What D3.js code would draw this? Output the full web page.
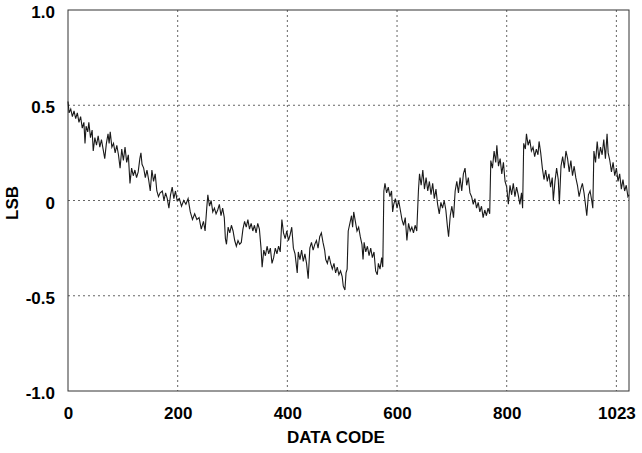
<!DOCTYPE html>
<html>
<head>
<meta charset="utf-8">
<script src="https://cdn.jsdelivr.net/npm/d3@7"></script>
<style>
  body { margin: 0; background: #fff; }
  svg { display: block; font-family: "Liberation Sans", Arial, sans-serif; }
</style>
</head>
<body>
<svg id="chart" width="642" height="453"></svg>
<script>
const codes = [0,2,5,8,11,14,17,20,23,26,29,31,33,36,38,41,44,46,49,52,55,58,61,64,67,70,73,75,77,80,83,86,89,92,95,98,101,104,107,110,113,116,119,122,125,128,131,133,135,138,141,144,147,150,153,156,159,162,165,168,172,175,178,181,184,187,190,193,196,199,203,207,211,215,219,223,227,231,235,239,243,247,250,253,255,258,261,264,267,270,273,276,279,282,285,287,289,292,295,298,301,304,307,310,313,316,319,322,325,328,331,334,337,340,343,346,349,352,354,357,360,363,366,369,372,375,378,381,384,387,390,393,396,399,402,405,408,411,414,418,420,423,426,429,432,435,438,441,444,447,450,453,456,459,462,465,468,470,473,476,479,482,485,488,491,494,497,500,502,505,507,509,511,514,517,519,521,524,527,530,533,536,538,540,543,546,549,552,555,558,561,564,566,569,572,574,576,578,581,584,587,590,592,594,597,600,603,606,609,612,615,618,621,624,627,630,633,636,639,641,644,647,650,653,656,659,662,665,668,671,674,677,680,683,686,689,692,694,697,700,703,706,709,712,715,718,721,724,727,730,733,736,739,742,745,748,751,754,757,760,763,766,769,771,774,777,780,782,785,788,791,794,797,800,803,806,809,812,815,818,821,824,827,829,831,834,836,839,842,845,848,851,854,857,859,862,865,868,871,874,877,880,883,885,888,891,894,896,899,902,905,908,911,914,917,920,923,926,929,932,935,938,941,944,946,949,952,955,957,959,962,965,968,971,974,977,980,983,985,988,991,994,997,1000,1003,1006,1009,1012,1015,1018,1021,1023];
const lsb = [0.52,0.46,0.48,0.44,0.47,0.43,0.46,0.41,0.44,0.38,0.41,0.30,0.39,0.36,0.41,0.33,0.37,0.26,0.33,0.29,0.34,0.28,0.32,0.27,0.22,0.30,0.35,0.30,0.36,0.28,0.30,0.25,0.29,0.24,0.17,0.27,0.21,0.28,0.20,0.24,0.09,0.17,0.13,0.16,0.12,0.15,0.22,0.25,0.19,0.17,0.12,0.16,0.11,0.05,0.16,0.10,0.14,0.05,0.02,0.04,0.05,0.00,0.04,0.01,-0.04,0.03,0.07,0.01,0.05,0.00,0.01,-0.03,0.00,-0.02,0.01,-0.06,-0.10,-0.07,-0.10,-0.09,-0.15,-0.11,-0.16,-0.04,0.03,-0.03,0.00,-0.06,-0.04,-0.07,-0.05,-0.02,-0.08,-0.04,-0.09,-0.20,-0.23,-0.14,-0.17,-0.13,-0.16,-0.21,-0.24,-0.21,-0.23,-0.22,-0.15,-0.11,-0.14,-0.10,-0.15,-0.12,-0.16,-0.13,-0.17,-0.12,-0.15,-0.25,-0.35,-0.26,-0.29,-0.24,-0.28,-0.25,-0.33,-0.30,-0.25,-0.28,-0.24,-0.27,-0.10,-0.17,-0.20,-0.16,-0.21,-0.18,-0.14,-0.25,-0.28,-0.38,-0.27,-0.31,-0.26,-0.32,-0.28,-0.33,-0.41,-0.25,-0.22,-0.26,-0.23,-0.21,-0.25,-0.19,-0.17,-0.22,-0.26,-0.31,-0.33,-0.29,-0.33,-0.36,-0.33,-0.38,-0.35,-0.39,-0.37,-0.40,-0.45,-0.47,-0.38,-0.36,-0.16,-0.12,-0.08,-0.14,-0.06,-0.11,-0.16,-0.14,-0.19,-0.23,-0.31,-0.22,-0.27,-0.24,-0.29,-0.25,-0.30,-0.27,-0.37,-0.39,-0.33,-0.36,-0.30,-0.35,0.05,0.09,0.04,0.07,0.02,0.05,-0.06,-0.02,0.01,-0.04,0.00,-0.05,-0.10,-0.13,-0.09,-0.21,-0.12,-0.16,-0.14,-0.17,-0.13,-0.16,0.05,0.14,0.08,0.16,0.06,0.12,0.05,0.10,0.03,0.09,0.01,0.06,-0.02,-0.07,-0.01,-0.04,0.00,-0.05,-0.14,-0.19,-0.08,-0.03,-0.09,0.05,0.10,0.04,0.12,0.05,0.14,0.17,0.08,0.12,0.04,0.02,-0.02,0.01,-0.04,-0.01,-0.06,-0.03,-0.09,-0.05,-0.08,-0.04,-0.07,0.21,0.17,0.26,0.20,0.29,0.18,0.22,0.14,0.20,0.10,0.07,-0.02,0.08,0.03,0.09,0.02,0.07,0.03,-0.02,0.04,-0.04,0.30,0.27,0.35,0.29,0.32,0.26,0.28,0.23,0.27,0.24,0.31,0.25,0.17,0.11,0.16,0.10,0.14,0.07,0.12,0.00,0.10,0.17,0.11,-0.02,0.18,0.23,0.17,0.26,0.22,0.15,0.21,0.13,0.18,0.12,0.08,0.02,0.06,0.09,0.04,-0.03,-0.08,0.03,0.05,0.00,-0.04,0.26,0.20,0.31,0.22,0.28,0.24,0.32,0.22,0.35,0.25,0.21,0.15,0.20,0.13,0.17,0.10,0.14,0.06,0.11,0.05,0.08,0.02,0.03];

const xTicks = [0, 200, 400, 600, 800, 1000];
const xTickLabels = ["0", "200", "400", "600", "800", "1023"];
const yTicks = [-1, -0.5, 0, 0.5, 1];
const yTickLabels = ["-1.0", "-0.5", "0", "0.5", "1.0"];

const svg = d3.select("#chart");
const margin = { left: 68, right: 629, top: 10, bottom: 391 };

const x = d3.scaleLinear().domain([0, 1023]).range([margin.left, margin.right]);
const y = d3.scaleLinear().domain([-1, 1]).range([margin.bottom, margin.top]);

// grid
svg.append("g")
  .selectAll("line")
  .data(xTicks.slice(1))
  .enter().append("line")
    .attr("x1", d => x(d)).attr("x2", d => x(d))
    .attr("y1", margin.top).attr("y2", margin.bottom)
    .attr("stroke", "#666").attr("stroke-width", 1)
    .attr("stroke-dasharray", "2,3");

svg.append("g")
  .selectAll("line")
  .data(yTicks.slice(1, -1))
  .enter().append("line")
    .attr("x1", margin.left).attr("x2", margin.right)
    .attr("y1", d => y(d)).attr("y2", d => y(d))
    .attr("stroke", "#666").attr("stroke-width", 1)
    .attr("stroke-dasharray", "2,3");

// frame
svg.append("rect")
  .attr("x", margin.left).attr("y", margin.top)
  .attr("width", margin.right - margin.left).attr("height", margin.bottom - margin.top)
  .attr("fill", "none").attr("stroke", "#333").attr("stroke-width", 1);

// tick labels
const xAxis = svg.append("g")
  .attr("transform", `translate(0,${margin.bottom})`)
  .call(d3.axisBottom(x).tickValues(xTicks).tickSize(0).tickPadding(16)
    .tickFormat((d, i) => xTickLabels[i]));
xAxis.select(".domain").remove();
xAxis.selectAll("text")
  .attr("font-size", 17).attr("font-weight", "bold").attr("fill", "#000")
  .attr("font-family", "Liberation Sans, Arial, sans-serif");

const yAxis = svg.append("g")
  .attr("transform", `translate(${margin.left},0)`)
  .call(d3.axisLeft(y).tickValues(yTicks).tickSize(0).tickPadding(13)
    .tickFormat((d, i) => yTickLabels[i]));
yAxis.select(".domain").remove();
yAxis.selectAll("text")
  .attr("dy", "0.45em")
  .attr("font-size", 17).attr("font-weight", "bold").attr("fill", "#000")
  .attr("font-family", "Liberation Sans, Arial, sans-serif");

// the trace
const n = Math.min(codes.length, lsb.length);
const line = d3.line()
  .x((d, i) => x(codes[i]))
  .y(d => y(d));

svg.append("path")
  .datum(lsb.slice(0, n))
  .attr("fill", "none")
  .attr("stroke", "#1a1a1a")
  .attr("stroke-width", 1.1)
  .attr("d", line);

// titles
svg.append("text")
  .attr("x", 336).attr("y", 443)
  .attr("text-anchor", "middle")
  .attr("font-size", 17).attr("font-weight", "bold")
  .text("DATA CODE");

svg.append("text")
  .attr("transform", "translate(18,203) rotate(-90)")
  .attr("text-anchor", "middle")
  .attr("font-size", 17).attr("font-weight", "bold")
  .text("LSB");
</script>
</body>
</html>
